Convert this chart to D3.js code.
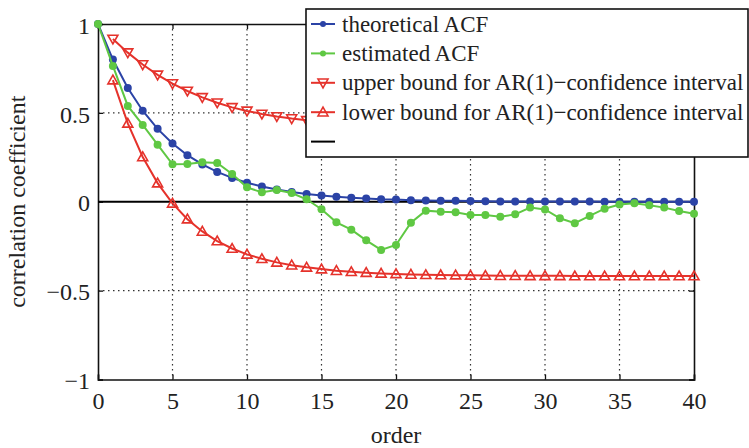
<!DOCTYPE html>
<html><head><meta charset="utf-8">
<script src="https://cdn.jsdelivr.net/npm/d3@7"></script>
<style>
body{margin:0;background:#fff;}
svg text{font-family:"Liberation Serif","Times New Roman",serif;fill:#222;}
</style></head>
<body><svg id="c" width="749" height="448"></svg>
<script>
const lags = d3.range(0, 41);
const theoretical = [1,0.8,0.64,0.512,0.41,0.328,0.262,0.21,0.168,0.134,0.107,0.086,0.069,0.055,0.044,0.035,0.028,0.023,0.018,0.014,0.012,0.009,0.007,0.006,0.005,0.004,0.003,0.002,0.002,0.002,0.001,0.001,0.001,0.001,0.0,0.0,0.0,0.0,0.0,0.0,0.0];
const estimated = [1,0.764,0.539,0.432,0.321,0.211,0.212,0.222,0.218,0.156,0.081,0.053,0.066,0.049,0.014,-0.042,-0.116,-0.157,-0.217,-0.271,-0.243,-0.118,-0.05,-0.056,-0.059,-0.075,-0.075,-0.084,-0.071,-0.033,-0.043,-0.093,-0.121,-0.08,-0.039,-0.015,-0.009,-0.02,-0.033,-0.052,-0.067];
const upperLags = d3.range(1, 41);
const upper = [0.916,0.839,0.772,0.714,0.665,0.623,0.587,0.557,0.531,0.511,0.494,0.480,0.468,0.458,0.451,0.445,0.440,0.436,0.432,0.430,0.427,0.426,0.424,0.423,0.422,0.421,0.421,0.420,0.420,0.420,0.419,0.419,0.419,0.419,0.419,0.419,0.419,0.419,0.419,0.419];
const lower = [0.684,0.441,0.252,0.105,-0.009,-0.098,-0.167,-0.221,-0.263,-0.296,-0.321,-0.341,-0.357,-0.369,-0.379,-0.388,-0.394,-0.399,-0.403,-0.406,-0.409,-0.411,-0.412,-0.413,-0.414,-0.415,-0.416,-0.416,-0.417,-0.417,-0.417,-0.418,-0.418,-0.418,-0.418,-0.418,-0.418,-0.418,-0.418,-0.418];
const xTicks = [0,5,10,15,20,25,30,35,40];
const yTicks = [-1,-0.5,0,0.5,1];
const legendLabels = ["theoretical ACF","estimated ACF","upper bound for AR(1)\u2212confidence interval","lower bound for AR(1)\u2212confidence interval",""];

const colBlue="#2b43a6", colGreen="#5fc843", colRed="#e5322b";
const svg=d3.select("#c");
const L=98,R=694,T=24,B=379.5;
const x=d3.scaleLinear().domain([0,40]).range([L,R]);
const y=d3.scaleLinear().domain([-1,1]).range([B,T]);

// grid
const g=svg.append("g");
g.selectAll(".gx").data(xTicks.filter(d=>d>0&&d<40)).enter().append("line")
 .attr("x1",d=>x(d)).attr("x2",d=>x(d)).attr("y1",T).attr("y2",B)
 .attr("stroke","#333").attr("stroke-width",1.2).attr("stroke-dasharray","1.5,3.5");
g.selectAll(".gy").data(yTicks.filter(d=>d!==0&&d>-1&&d<1)).enter().append("line")
 .attr("y1",d=>y(d)).attr("y2",d=>y(d)).attr("x1",L).attr("x2",R)
 .attr("stroke","#333").attr("stroke-width",1.2).attr("stroke-dasharray","1.5,3.5");

// axes
const ax=d3.axisBottom(x).tickValues(xTicks).tickSize(-5).tickPadding(12).tickFormat(d3.format("d"));
const gx=svg.append("g").attr("transform",`translate(0,${B})`).call(ax);
const ay=d3.axisLeft(y).tickValues(yTicks).tickSize(-5).tickPadding(8).tickFormat(d=>d3.format("")(d).replace("-","\u2212"));
const gy=svg.append("g").attr("transform",`translate(${L},0)`).call(ay);
const axTop=d3.axisTop(x).tickValues(xTicks).tickSize(-5).tickFormat("");
svg.append("g").attr("transform",`translate(0,${T})`).call(axTop);
const ayR=d3.axisRight(y).tickValues(yTicks).tickSize(-5).tickFormat("");
svg.append("g").attr("transform",`translate(${R},0)`).call(ayR);
svg.selectAll(".domain").attr("stroke","#111").attr("stroke-width",1.6);
svg.selectAll(".tick line").attr("stroke","#111").attr("stroke-width",1.3);
gx.selectAll("text").style("font-size","24px").attr("fill","#222").style("font-family","Liberation Serif");
gy.selectAll("text").style("font-size","24px").attr("fill","#222").style("font-family","Liberation Serif").attr("dy","0.38em");

svg.append("text").attr("x",(L+R)/2).attr("y",443).attr("text-anchor","middle").style("font-size","24px").text("order");
svg.append("text").attr("transform",`translate(25,${(T+B)/2}) rotate(-90)`).attr("text-anchor","middle").style("font-size","24px").text("correlation coefficient");

// zero line
svg.append("line").attr("x1",x(0)).attr("x2",x(40)).attr("y1",y(0)).attr("y2",y(0)).attr("stroke","#000").attr("stroke-width",1.8);

const line=d3.line();
function series(xs,ys,color,marker){
  const pts=xs.map((d,i)=>[x(d),y(ys[i])]);
  svg.append("path").attr("d",line(pts)).attr("fill","none").attr("stroke",color).attr("stroke-width",2);
  drawMarkers(svg,pts,color,marker);
}
function drawMarkers(sel,pts,color,marker){
  if(marker==="dot"){
    sel.selectAll(null).data(pts).enter().append("circle").attr("cx",d=>d[0]).attr("cy",d=>d[1]).attr("r",4).attr("fill",color);
  } else {
    const s=5;
    sel.selectAll(null).data(pts).enter().append("path")
     .attr("d",d=>marker==="down"
        ? `M${d[0]-s},${d[1]-s*0.75}L${d[0]+s},${d[1]-s*0.75}L${d[0]},${d[1]+s}Z`
        : `M${d[0]-s},${d[1]+s*0.75}L${d[0]+s},${d[1]+s*0.75}L${d[0]},${d[1]-s}Z`)
     .attr("fill","none").attr("stroke",color).attr("stroke-width",1.6);
  }
}
series(upperLags,lower,colRed,"up");
series(upperLags,upper,colRed,"down");
series(lags,theoretical,colBlue,"dot");
series(lags,estimated,colGreen,"dot");

// legend
const lg=svg.append("g");
lg.append("rect").attr("x",306).attr("y",9).attr("width",442).attr("height",148).attr("fill","#fff").attr("stroke","#111").attr("stroke-width",1.6);
const cols=[colBlue,colGreen,colRed,colRed,"#000"], mk=["dot","dot","down","up",null];
legendLabels.forEach((t,i)=>{
  const yy=24+i*29.4;
  lg.append("line").attr("x1",311).attr("x2",335).attr("y1",yy).attr("y2",yy).attr("stroke",cols[i]).attr("stroke-width",2);
  if(mk[i]==="dot") lg.append("circle").attr("cx",323).attr("cy",yy).attr("r",3).attr("fill",cols[i]);
  else if(mk[i]) drawMarkers(lg,[[323,yy]],cols[i],mk[i]);
  lg.append("text").attr("x",342).attr("y",yy).attr("dy","0.33em").style("font-size","23px").text(t);
});
</script></body></html>
